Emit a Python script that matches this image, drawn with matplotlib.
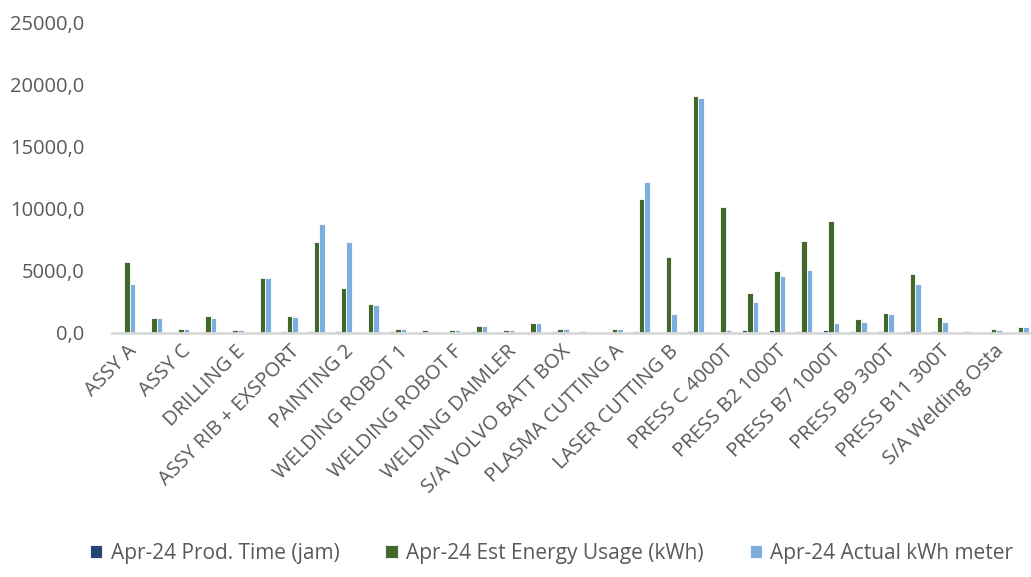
import numpy as np
import matplotlib.pyplot as plt

# data
categories = [
    "ASSY A", "ASSY B", "ASSY C", "ASSY D", "DRILLING E", "ASSY RIB",
    "ASSY RIB + EXSPORT", "PAINTING 1", "PAINTING 2", "WELDING ROBOT",
    "WELDING ROBOT 1", "WELDING ROBOT E", "WELDING ROBOT F", "WELDING BRACKET",
    "WELDING DAIMLER", "WELDING VOLVO", "S/A VOLVO BATT BOX", "S/A VOLVO FRAME",
    "PLASMA CUTTING A", "LASER CUTTING A", "LASER CUTTING B", "PRESS A 4000T",
    "PRESS C 4000T", "PRESS B1 1000T", "PRESS B2 1000T", "PRESS B5 1000T",
    "PRESS B7 1000T", "PRESS B8 300T", "PRESS B9 300T", "PRESS B10 300T",
    "PRESS B11 300T", "S/A Welding", "S/A Welding Osta", "S/A Welding Hino",
]
prod_time = [0, 0, 0, 0, 0, 0, 180, 180, 180, 0,
             180, 0, 0, 180, 0, 0, 180, 180, 0, 180,
             0, 180, 0, 260, 260, 180, 260, 180, 180, 180,
             180, 0, 0, 0]
est_energy = [5700, 1210, 350, 1390, 270, 4460, 1390, 7330, 3630, 2360,
              350, 270, 270, 560, 270, 775, 350, 0, 350, 10830,
              6150, 19130, 10160, 3220, 5000, 7410, 9000, 1100, 1610, 4780,
              1310, 150, 350, 455]
actual_kwh = [3950, 1210, 350, 1210, 270, 4460, 1300, 8790, 7330, 2260,
              350, 160, 270, 560, 270, 775, 350, 0, 350, 12200,
              1530, 18940, 270, 2470, 4590, 5100, 775, 890, 1500, 3950,
              890, 0, 270, 455]
series_names = ["Apr-24 Prod. Time (jam)", "Apr-24 Est Energy Usage (kWh)",
                "Apr-24 Actual kWh meter"]
colors = ["#264478", "#43682b", "#7cafdd"]

fig = plt.figure(figsize=(10.31, 5.77), dpi=100)
ax = fig.add_axes([0.1086, 0.4229, 0.8914, 0.5373])

x = np.arange(len(categories))
w = 0.205
for i, (vals, name, c) in enumerate(zip([prod_time, est_energy, actual_kwh], series_names, colors)):
    ax.bar(x + (i - 1) * w, vals, width=w, color=c, edgecolor="white", linewidth=0.6, label=name)

ax.set_ylim(0, 25000)
ax.set_xlim(-0.55, len(categories) - 0.62)
ax.set_yticks(np.arange(0, 25001, 5000))
ax.set_yticklabels([f"{v},0" for v in range(0, 25001, 5000)])
ax.set_xticks(x[::2])
ax.set_xticklabels(categories[::2], rotation=45, ha="right", rotation_mode="anchor")

for s in ["top", "right", "left"]:
    ax.spines[s].set_visible(False)
ax.spines["bottom"].set_color("#d9d9d9")
ax.spines["bottom"].set_linewidth(2)
ax.tick_params(axis="both", length=0, colors="#595959", labelsize=14.5)
ax.tick_params(axis="y", pad=20)
ax.tick_params(axis="x", pad=6)
for t in ax.get_xticklabels() + ax.get_yticklabels():
    t.set_fontfamily("Open Sans")

leg = fig.legend(loc="lower center", ncol=3, frameon=False, bbox_to_anchor=(0.535, -0.01),
                 prop={"family": "Open Sans", "size": 15}, handlelength=0.6, handleheight=0.6,
                 handletextpad=0.4, columnspacing=2.2)
for t in leg.get_texts():
    t.set_color("#595959")

fig.savefig("out.png", dpi=100)
